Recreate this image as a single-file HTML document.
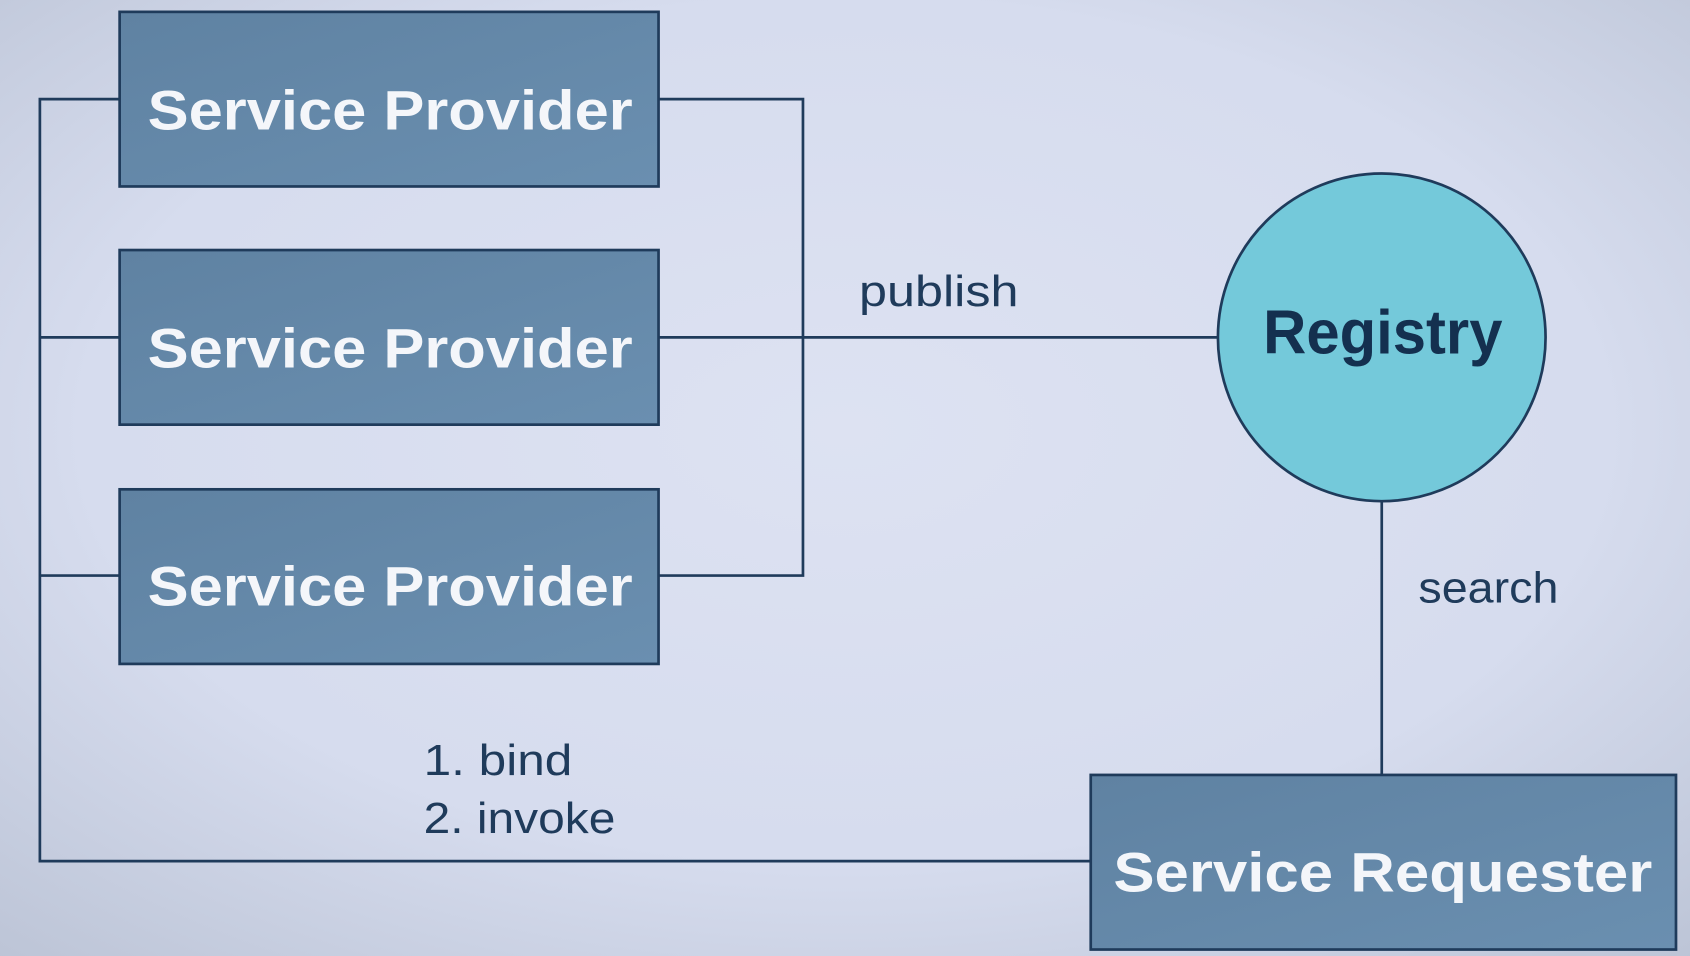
<!DOCTYPE html>
<html><head><meta charset="utf-8"><style>
html,body{margin:0;padding:0;width:1690px;height:956px;overflow:hidden}
svg{display:block}
</style></head><body>
<svg width="1690" height="956" viewBox="0 0 1568 887" preserveAspectRatio="none" xmlns="http://www.w3.org/2000/svg">
<defs>
<radialGradient id="bg" cx="50%" cy="45%" r="75%">
<stop offset="0" stop-color="#dde2f2"/>
<stop offset="0.6" stop-color="#d6dcee"/>
<stop offset="1" stop-color="#bcc4d6"/>
</radialGradient>
<linearGradient id="bx" x1="0" y1="0" x2="1" y2="1">
<stop offset="0" stop-color="#5f82a2"/>
<stop offset="1" stop-color="#6a8fb0"/>
</linearGradient>
</defs>
<rect width="1568" height="887" fill="url(#bg)"/>
<g stroke="#1f3b5b" stroke-width="2.5" fill="none">
<polyline points="111,92 37,92 37,799 1012,799"/>
<line x1="37" y1="313" x2="111" y2="313"/>
<line x1="37" y1="534" x2="111" y2="534"/>
<polyline points="611,92 745,92 745,534 611,534"/>
<line x1="611" y1="313" x2="1130" y2="313"/>
<line x1="1282" y1="465" x2="1282" y2="719"/>
</g>
<g fill="url(#bx)" stroke="#1f3b5b" stroke-width="2.5">
<rect x="111" y="11" width="500" height="162"/>
<rect x="111" y="232" width="500" height="162"/>
<rect x="111" y="454" width="500" height="162"/>
<rect x="1012" y="719" width="543" height="162"/>
</g>
<circle cx="1282" cy="313" r="152" fill="#74c9da" stroke="#1f3b5b" stroke-width="2.5"/>
<g font-family="Liberation Sans, sans-serif" font-weight="bold" fill="#f4f6fa" font-size="52">
<text x="137" y="120" textLength="450" lengthAdjust="spacingAndGlyphs">Service Provider</text>
<text x="137" y="341" textLength="450" lengthAdjust="spacingAndGlyphs">Service Provider</text>
<text x="137" y="562" textLength="450" lengthAdjust="spacingAndGlyphs">Service Provider</text>
<text x="1033" y="827" textLength="500" lengthAdjust="spacingAndGlyphs">Service Requester</text>
<text x="1172" y="328" fill="#14304f" font-size="58" textLength="222" lengthAdjust="spacingAndGlyphs">Registry</text>
</g>
<g font-family="Liberation Sans, sans-serif" fill="#1f3b5b" font-size="40">
<text x="797" y="284" textLength="148" lengthAdjust="spacingAndGlyphs">publish</text>
<text x="1316" y="559" textLength="130" lengthAdjust="spacingAndGlyphs">search</text>
<text x="393" y="719" textLength="138" lengthAdjust="spacingAndGlyphs">1. bind</text>
<text x="393" y="773" textLength="178" lengthAdjust="spacingAndGlyphs">2. invoke</text>
</g>
</svg>
</body></html>
